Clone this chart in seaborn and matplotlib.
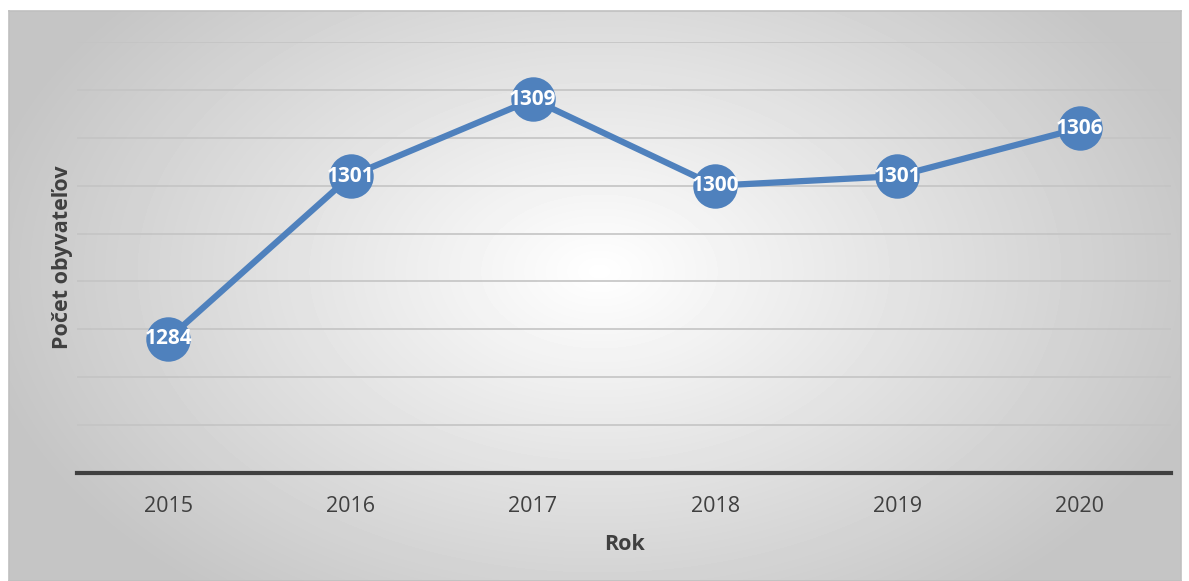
import matplotlib
matplotlib.use('Agg')
import matplotlib.pyplot as plt
import seaborn as sns
import numpy as np
import pandas as pd

years = ['2015', '2016', '2017', '2018', '2019', '2020']
population = [1284, 1301, 1309, 1300, 1301, 1306]

sns.set_style('white')
plt.rcParams['font.family'] = ['Open Sans', 'DejaVu Sans']

fig = plt.figure(figsize=(11.89, 5.81), dpi=100)

# radial gradient background of the chart frame
bg = fig.add_axes([9 / 1189, 0, 1172 / 1189, 570 / 581])
yy, xx = np.mgrid[0:570, 0:1172]
r = np.sqrt(((xx - 590) / 660.0) ** 2 + ((yy - 260) / 430.0) ** 2)
shade = np.clip(1.0 - 0.24 * r, 0.77, 1.0)
bg.imshow(shade, cmap='gray', vmin=0, vmax=1, aspect='auto', interpolation='bilinear')
bg.set_xticks([])
bg.set_yticks([])
for s in bg.spines.values():
    s.set_color('#c0c0c0')
    s.set_linewidth(1.2)

ax = fig.add_axes([77 / 1189, 1 - 473 / 581, 1094 / 1189, (473 - 42) / 581])
ax.patch.set_alpha(0)

df = pd.DataFrame({'Rok': years, 'Pocet': population})
sns.lineplot(data=df, x='Rok', y='Pocet', ax=ax, color='#4f81bd', linewidth=4.5,
             marker='o', markersize=32, markeredgewidth=0, sort=False)

for i, v in enumerate(population):
    ax.text(i, v, str(v), ha='center', va='center', color='white',
            fontsize=15, fontweight='bold', zorder=5)

ax.set_xlim(-0.5, 5.5)
ax.set_ylim(1270, 1315)
ax.set_yticks(np.arange(1275, 1316, 5))
ax.yaxis.grid(True, color='#c4c4c4', linewidth=1.2)
ax.set_axisbelow(True)
ax.tick_params(axis='y', left=False, labelleft=False)
ax.tick_params(axis='x', bottom=False, labelsize=15.5, labelcolor='#404040', pad=13)
for side in ['top', 'right', 'left']:
    ax.spines[side].set_visible(False)
ax.spines['bottom'].set_color('#404040')
ax.spines['bottom'].set_linewidth(3)

ax.set_xlabel('Rok', fontsize=15.5, fontweight='bold', color='#404040', labelpad=12)
ax.set_ylabel('Počet obyvateľov', fontsize=15.5, fontweight='bold', color='#404040', labelpad=3)

fig.savefig('out.png', dpi=100)
